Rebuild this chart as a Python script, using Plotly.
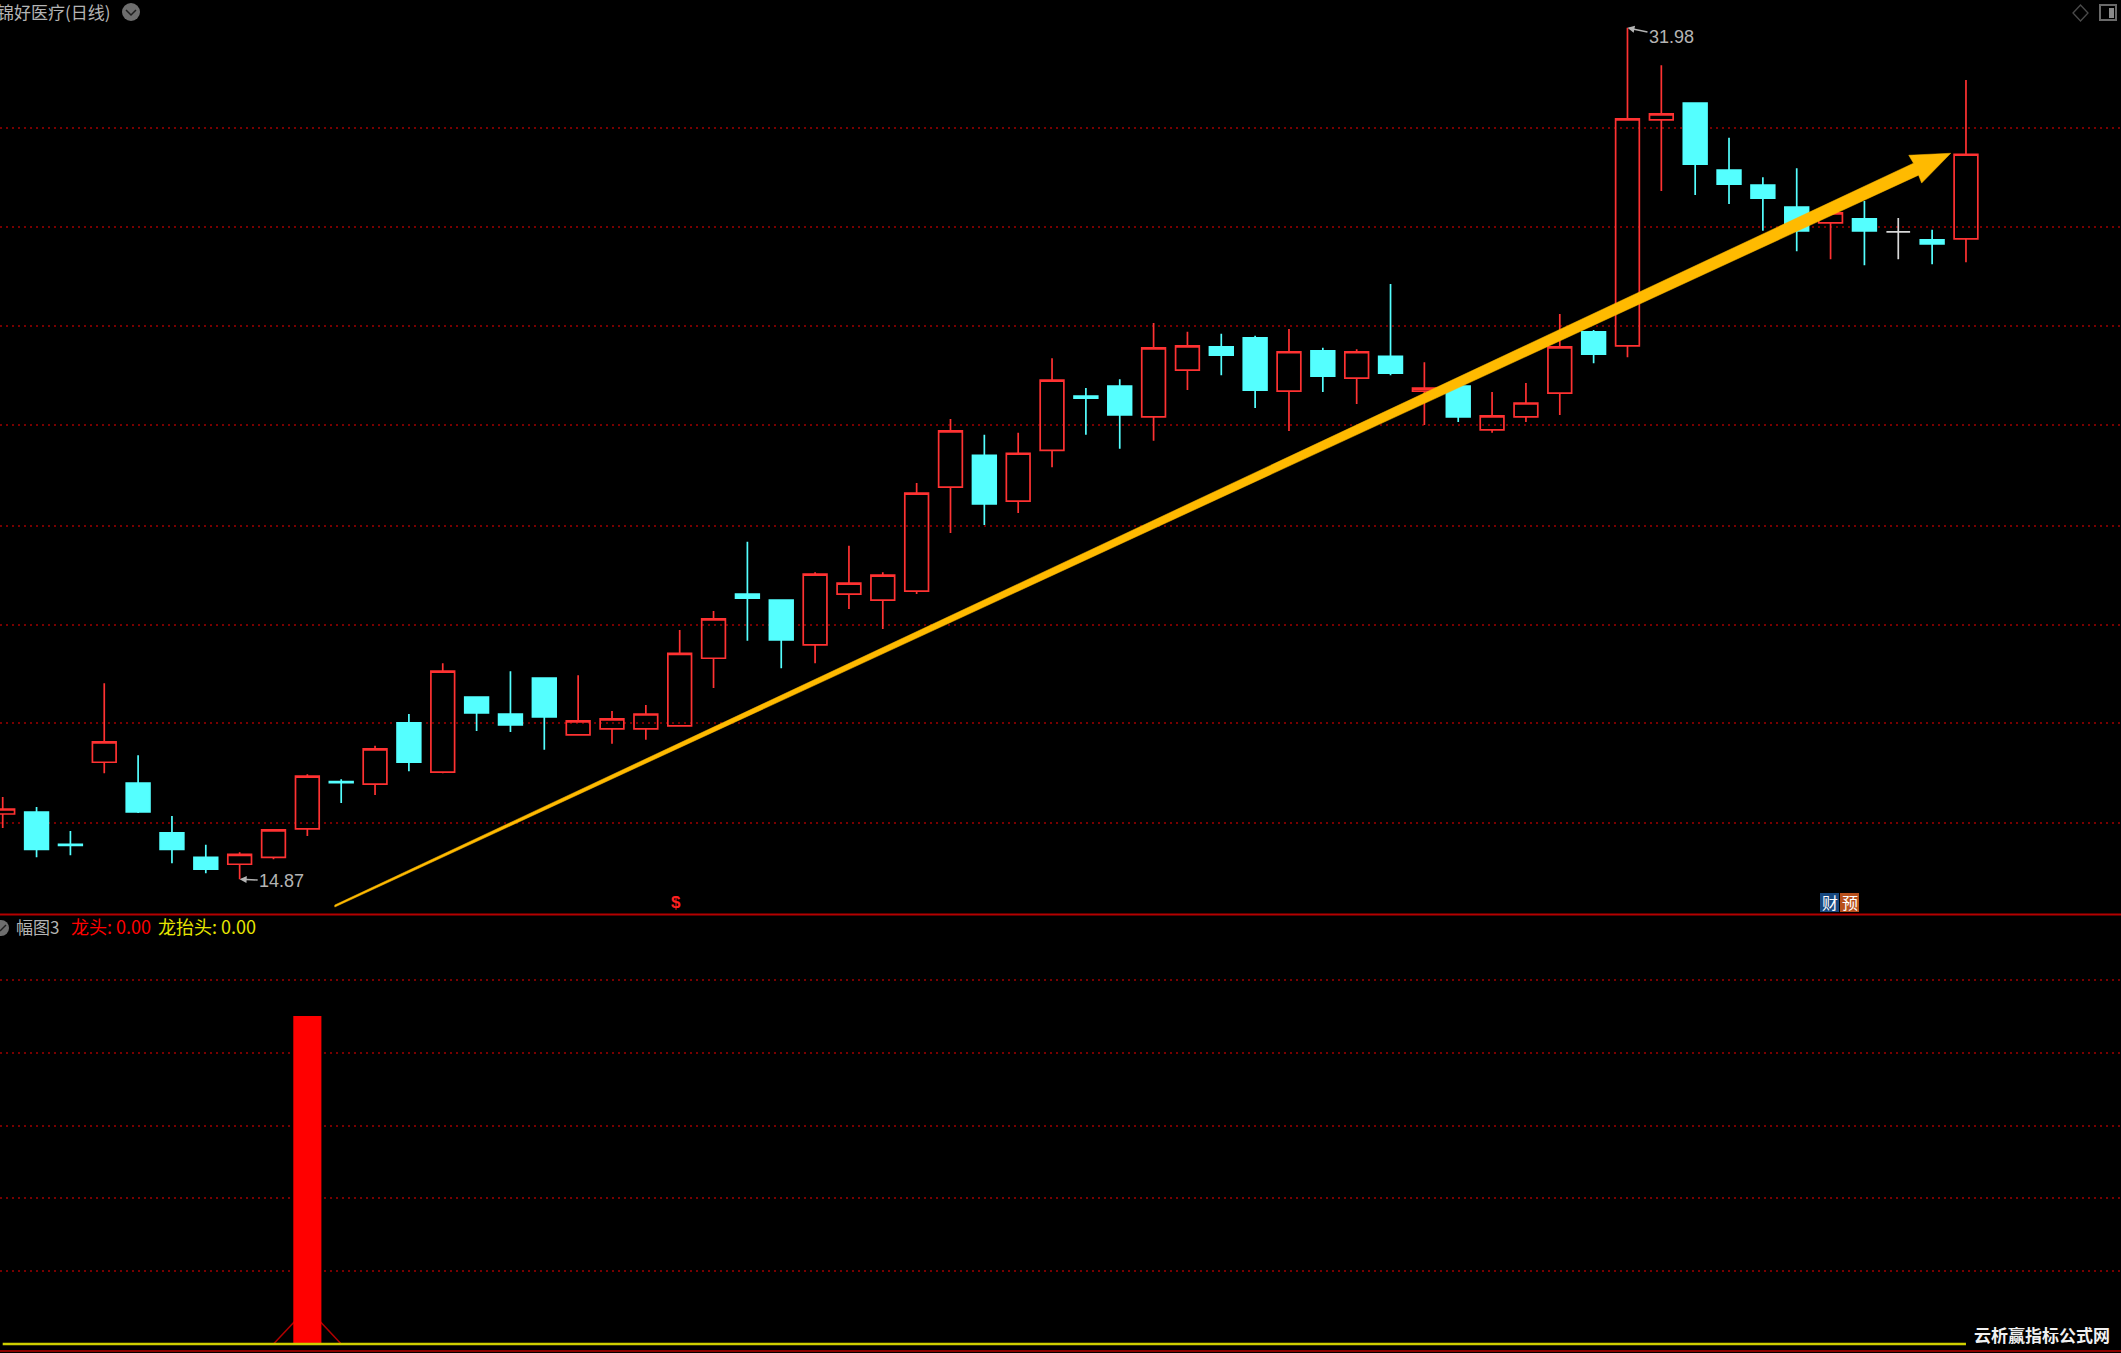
import plotly.graph_objects as go

W, H = 2121, 1353

# ---- data ----
candle_index = list(range(59))
open_price = [16.18,16.22,15.57,17.22,16.80,15.80,15.31,15.17,15.31,15.88,16.83,16.78,18.01,17.02,18.53,18.19,18.91,17.77,17.89,17.89,
              17.95,19.31,20.60,20.48,19.58,20.60,20.48,20.66,22.75,23.39,22.47,23.49,24.58,24.78,24.16,25.10,25.57,25.75,24.68,25.49,
              24.94,25.38,24.68,24.78,23.90,24.16,24.64,25.87,25.59,30.13,30.47,29.12,28.82,28.38,28.06,28.14,None,27.72,27.74]
high_price = [16.52,16.32,15.84,18.81,17.36,16.14,15.56,15.41,15.86,16.98,16.88,17.55,18.19,19.21,18.53,19.05,18.93,18.97,18.25,18.37,
              19.88,20.26,21.65,20.48,21.04,21.57,21.04,22.83,24.12,23.80,23.84,25.34,24.74,24.92,26.05,25.87,25.83,25.79,25.93,25.55,
              25.52,26.83,25.26,24.78,24.66,24.84,26.23,25.91,31.98,31.23,30.47,29.77,28.98,29.16,28.36,28.50,None,27.92,30.93]
low_price = [15.90,15.31,15.35,17.00,16.20,15.19,14.99,14.87,15.27,15.74,16.40,16.56,17.04,17.00,17.85,17.83,17.47,17.77,17.59,17.67,
             17.95,18.71,19.66,19.11,19.21,20.30,19.90,20.60,21.83,21.99,22.23,23.15,23.80,23.52,23.68,24.70,25.00,24.34,23.88,24.66,
             24.42,25.00,24.00,24.06,23.84,24.06,24.20,25.24,25.36,28.70,28.62,28.44,27.90,27.49,27.33,27.21,None,27.23,27.27]
close_price = [16.28,15.47,15.55,17.63,16.22,15.47,15.07,15.37,15.86,16.94,16.81,17.49,17.22,19.05,18.21,17.97,18.13,18.05,18.09,18.19,
               19.41,20.10,20.52,19.68,21.00,20.82,20.98,22.63,23.88,22.41,23.43,24.90,24.54,24.20,25.55,25.59,25.40,24.70,25.47,24.98,
               25.47,25.04,24.74,24.16,24.18,24.44,25.57,25.42,30.15,30.25,29.24,28.84,28.56,27.90,28.26,27.90,None,27.64,29.44]
flat_index = [56]
flat_open = [27.88]
flat_high = [28.16]
flat_low = [27.33]
flat_close = [27.88]

trend_arrow_index = [9.81, 9.81, 56.45, 56.31, 57.55, 56.69, 56.60, 9.81]
trend_arrow_price = [14.31, 14.35, 29.26, 29.42, 29.46, 28.86, 29.02, 14.31]

price_grid = [16.0, 18.0, 19.98, 21.97, 24.0, 25.99, 27.98, 29.97]
lower_grid = [22.2, 44.4, 66.6, 88.8, 111.0]

dragon_index = [9]
dragon_value = [100]
ridge_index = [8, 9, 10]
ridge_value = [0, 11, 0]
lift_index = [0, 58]
lift_value = [0, 0]

low_label, high_label = 14.87, 31.98

# ---- colours ----
BG = "#000000"; RED = "#ff3232"; CYAN = "#54ffff"; GRID = "#780000"
GOLD = "#ffba00"; GRAY = "#b4b4b4"
CJK = "Noto Sans CJK SC, Liberation Sans, sans-serif"
LATIN = "Liberation Sans, Arial, sans-serif"

px = lambda x: x / W
py = lambda y: 1 - y / H

fig = go.Figure()
fig.add_trace(go.Candlestick(
    x=candle_index, open=open_price, high=high_price, low=low_price, close=close_price,
    increasing=dict(line=dict(color=RED, width=1.7), fillcolor="rgba(0,0,0,0)"),
    decreasing=dict(line=dict(color=CYAN, width=1.7), fillcolor=CYAN),
    xaxis="x", yaxis="y", showlegend=False, hoverinfo="skip"))
fig.add_trace(go.Candlestick(
    x=flat_index, open=flat_open, high=flat_high, low=flat_low, close=flat_close,
    increasing=dict(line=dict(color="#d8d8d8", width=1.7), fillcolor="#d8d8d8"),
    decreasing=dict(line=dict(color="#d8d8d8", width=1.7), fillcolor="#d8d8d8"),
    xaxis="x", yaxis="y", showlegend=False, hoverinfo="skip"))
fig.add_trace(go.Scatter(
    x=trend_arrow_index, y=trend_arrow_price, mode="lines", fill="toself",
    fillcolor=GOLD, line=dict(color=GOLD, width=0.5), xaxis="x", yaxis="y",
    showlegend=False, hoverinfo="skip"))
fig.add_trace(go.Scatter(
    x=ridge_index, y=ridge_value, mode="lines", line=dict(color="#b00000", width=1.5),
    xaxis="x2", yaxis="y2", showlegend=False, hoverinfo="skip"))
fig.add_trace(go.Bar(
    x=dragon_index, y=dragon_value, width=0.83, marker=dict(color="#ff0000", line=dict(width=0)),
    xaxis="x3", yaxis="y3", showlegend=False, hoverinfo="skip"))
fig.add_trace(go.Scatter(
    x=lift_index, y=lift_value, mode="lines", line=dict(color="#cfcf00", width=2.5),
    xaxis="x3", yaxis="y3", showlegend=False, hoverinfo="skip"))

x_range = [-0.08, 62.58]
x_common = dict(range=x_range, visible=False, showgrid=False, zeroline=False, fixedrange=True)
lower_range = [-2.74, 130.8]

shapes = [
    dict(type="line", xref="paper", yref="paper", x0=0, x1=1, y0=py(914.5), y1=py(914.5),
         line=dict(color="#b40000", width=2)),
    dict(type="line", xref="paper", yref="paper", x0=0, x1=1, y0=py(1351), y1=py(1351),
         line=dict(color="#8c0000", width=2)),
    # header icons
    dict(type="circle", xref="paper", yref="paper", x0=px(122), x1=px(140), y0=py(3), y1=py(21),
         fillcolor="#6e6e6e", line=dict(width=0)),
    dict(type="path", xref="paper", yref="paper",
         path=f"M {px(126)} {py(10)} L {px(131)} {py(15)} L {px(136)} {py(10)}",
         line=dict(color="#1e1e1e", width=1.5)),
    dict(type="path", xref="paper", yref="paper",
         path=f"M {px(2073)} {py(13)} L {px(2080.5)} {py(5)} L {px(2088)} {py(13)} L {px(2080.5)} {py(21)} Z",
         line=dict(color="#4a4a4a", width=1.3)),
    dict(type="rect", xref="paper", yref="paper", x0=px(2100), x1=px(2116), y0=py(5), y1=py(20),
         line=dict(color="#6a6a6a", width=2)),
    dict(type="rect", xref="paper", yref="paper", x0=px(2109), x1=px(2114), y0=py(8), y1=py(18),
         fillcolor="#8a8a8a", line=dict(width=0)),
    # pane icon
    dict(type="circle", xref="paper", yref="paper", x0=px(-7), x1=px(9), y0=py(920), y1=py(936),
         fillcolor="#6e6e6e", line=dict(width=0)),
    dict(type="path", xref="paper", yref="paper",
         path=f"M {px(0)} {py(931)} L {px(6)} {py(925)}",
         line=dict(color="#1e1e1e", width=1.5)),
    # 财 / 预 badges
    dict(type="rect", xref="paper", yref="paper", x0=px(1820), x1=px(1839), y0=py(893), y1=py(912),
         fillcolor="#17487f", line=dict(width=0)),
    dict(type="rect", xref="paper", yref="paper", x0=px(1840), x1=px(1859), y0=py(893), y1=py(912),
         fillcolor="#b8501c", line=dict(width=0)),
]

def label(text, x, y, color, size=17, font=CJK, anchor="left"):
    return dict(text=text, xref="paper", yref="paper", x=px(x), y=py(y), xanchor=anchor, yanchor="middle",
                showarrow=False, font=dict(family=font, size=size, color=color))

annotations = [
    label("锦好医疗(日线)", 113, 11, GRAY, 17, anchor="right"),
    label("幅图3", 14, 926, GRAY, 17),
    label("龙头: 0.00", 69, 926, "#ff0000", 18),
    label("龙抬头: 0.00", 156, 926, "#e6e600", 18),
    label("<b>$</b>", 676, 903, "#ff2020", 17, LATIN, anchor="center"),
    label("财", 1829.5, 902, "#ffffff", 16, anchor="center"),
    label("预", 1849.5, 902, "#ffffff", 16, anchor="center"),
    label("<b>云析赢指标公式网</b>", 1972, 1334, "#f0f0f0", 17),
    dict(x=7, y=low_label, xref="x", yref="y", text=f"{low_label:.2f}", showarrow=True, ax=42, ay=2,
         arrowhead=2, arrowsize=1, arrowwidth=1.4, arrowcolor=GRAY, standoff=0,
         font=dict(family=LATIN, size=18, color=GRAY)),
    dict(x=48, y=high_label, xref="x", yref="y", text=f"{high_label:.2f}", showarrow=True, ax=44, ay=9,
         arrowhead=2, arrowsize=1, arrowwidth=1.4, arrowcolor=GRAY, standoff=0,
         font=dict(family=LATIN, size=18, color=GRAY)),
]

grid_style = dict(showgrid=True, gridcolor=GRID, griddash="2px,4px", gridwidth=1.5, zeroline=False,
                  showticklabels=False, ticks="", showline=False, fixedrange=True)

fig.update_layout(
    width=W, height=H, autosize=False,
    margin=dict(l=0, r=0, t=0, b=0, pad=0),
    paper_bgcolor=BG, plot_bgcolor=BG,
    showlegend=False,
    boxmode="overlay", boxgap=0.3, boxgroupgap=0,
    xaxis=dict(domain=[0, 1], rangeslider=dict(visible=False), **x_common),
    yaxis=dict(domain=[py(914), 1], range=[14.17, 32.54], tickmode="array", tickvals=price_grid, **grid_style),
    xaxis2=dict(domain=[0, 1], anchor="y2", **x_common),
    yaxis2=dict(domain=[0, py(915)], range=lower_range, anchor="x2", tickmode="array", tickvals=lower_grid, **grid_style),
    xaxis3=dict(overlaying="x2", anchor="y3", **x_common),
    yaxis3=dict(overlaying="y2", range=lower_range, anchor="x3", visible=False, showgrid=False,
                zeroline=False, fixedrange=True),
    shapes=shapes, annotations=annotations,
)

fig.write_html("out.html", config=dict(displayModeBar=False),
               post_script="document.body.style.margin='0';document.body.style.background='#000';document.body.style.overflow='hidden';")
